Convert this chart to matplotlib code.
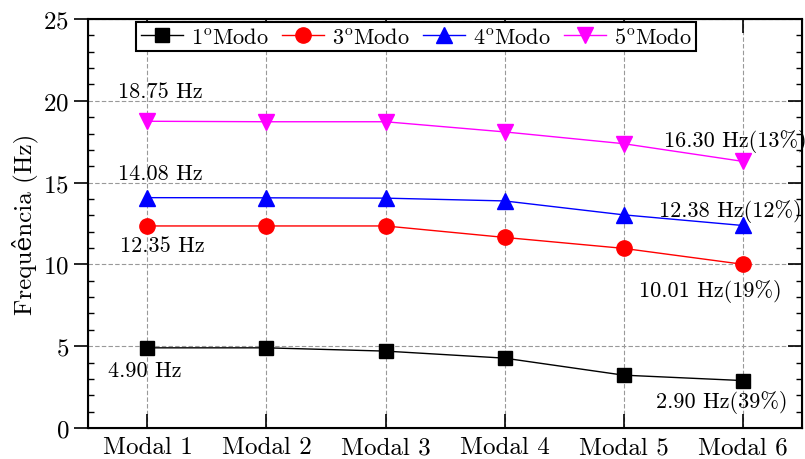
import matplotlib
matplotlib.use("Agg")
import matplotlib.pyplot as plt
from matplotlib.ticker import MultipleLocator

plt.rcParams['font.family'] = ['cmr10', 'DejaVu Serif']
plt.rcParams['mathtext.fontset'] = 'cm'
plt.rcParams['axes.formatter.use_mathtext'] = True

cases = ['Modal 1', 'Modal 2', 'Modal 3', 'Modal 4', 'Modal 5', 'Modal 6']
modo1 = [4.90, 4.90, 4.70, 4.27, 3.23, 2.90]
modo3 = [12.35, 12.35, 12.35, 11.65, 10.98, 10.01]
modo4 = [14.08, 14.07, 14.05, 13.88, 13.03, 12.38]
modo5 = [18.75, 18.72, 18.72, 18.10, 17.38, 16.30]
labels = [r'1$^{\mathrm{o}}$Modo', r'3$^{\mathrm{o}}$Modo',
          r'4$^{\mathrm{o}}$Modo', r'5$^{\mathrm{o}}$Modo']

fig = plt.figure(figsize=(8.05, 4.6), dpi=100)
ax = fig.add_axes([0.1093, 0.0674, 0.8870, 0.8891])
x = range(len(cases))

ax.plot(x, modo1, color='black', marker='s', ms=10, lw=1, label=labels[0])
ax.plot(x, modo3, color='red', marker='o', ms=11, lw=1, label=labels[1])
ax.plot(x, modo4, color='blue', marker='^', ms=12, lw=1, label=labels[2])
ax.plot(x, modo5, color='magenta', marker='v', ms=12, lw=1, label=labels[3])

ax.set_xlim(-0.5, 5.5)
ax.set_ylim(0, 25)
ax.set_xticks(list(x))
ax.set_xticklabels(cases)
ax.yaxis.set_major_locator(MultipleLocator(5))
ax.yaxis.set_minor_locator(MultipleLocator(1))
ax.set_ylabel('Frequência (Hz)', fontsize=18)
ax.grid(True, which='major', color='#999999', ls=(0, (4, 2)), lw=0.8)

ax.tick_params(axis='x', which='major', direction='in', top=True, length=10, width=1.2, labelsize=18, pad=6)
ax.tick_params(axis='y', which='major', direction='out', length=10, width=1.2, labelsize=18)
ax.tick_params(axis='y', which='minor', direction='in', right=True, length=4, width=1)
for s in ax.spines.values():
    s.set_linewidth(1.5)

ax2 = ax.twinx()
ax2.set_ylim(0, 25)
ax2.yaxis.set_major_locator(MultipleLocator(5))
ax2.yaxis.set_minor_locator(MultipleLocator(1))
ax2.tick_params(axis='y', which='major', direction='in', length=10, width=1.2, labelright=False)
ax2.tick_params(axis='y', which='minor', direction='in', length=4, width=1)

fs = 16
ax.text(-0.25, 20.6, '18.75 Hz', fontsize=fs, va='center')
ax.text(-0.25, 15.6, '14.08 Hz', fontsize=fs, va='center')
ax.text(-0.23, 11.15, '12.35 Hz', fontsize=fs, va='center')
ax.text(-0.335, 3.5, '4.90 Hz', fontsize=fs, va='center')
ax.text(4.34, 17.55, '16.30 Hz(13%)', fontsize=fs, va='center', clip_on=False)
ax.text(4.30, 13.3, '12.38 Hz(12%)', fontsize=fs, va='center', clip_on=False)
ax.text(4.13, 8.4, '10.01 Hz(19%)', fontsize=fs, va='center')
ax.text(4.27, 1.6, '2.90 Hz(39%)', fontsize=fs, va='center')

leg = ax.legend(loc='upper left', bbox_to_anchor=(0.063, 1.0), ncol=4, fontsize=16,
                frameon=True, fancybox=False, framealpha=1, edgecolor='black',
                handlelength=1.9, columnspacing=0.6, handletextpad=0.35,
                borderpad=0.2, borderaxespad=0.15)
leg.get_frame().set_linewidth(1.5)

fig.savefig('out.png', dpi=100)
